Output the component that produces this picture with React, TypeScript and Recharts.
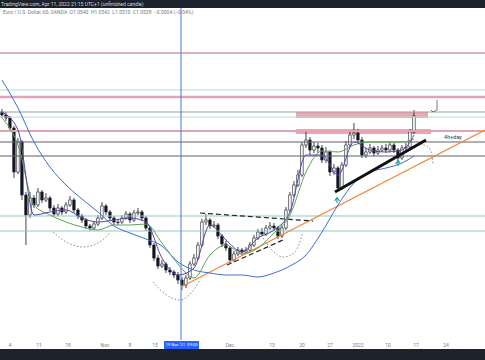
import React from "react";
import {
  ComposedChart, Bar, Line, XAxis, YAxis, ReferenceLine, ReferenceArea, ReferenceDot,
} from "recharts";

// candles, one per index (levels measured up from the bottom of the plot)
const open = [
  228, 225, 222, 212, 168, 198, 145, 125, 142, 135,
  148, 140, 142, 132, 126, 132, 128, 135, 140, 130,
  124, 120, 114, 112, 116, 122, 134, 128, 122, 118,
  118, 122, 126, 120, 127, 128, 122, 112, 95, 82,
  74, 76, 70, 68, 65, 60, 55, 62, 76, 82,
  95, 118, 120, 114, 115, 104, 96, 92, 80, 86,
  90, 88, 90, 95, 102, 108, 106, 112, 114, 112,
  104, 112, 130, 145, 155, 165, 195, 200, 190, 194,
  192, 180, 188, 168, 172, 152, 175, 195, 205, 207,
  200, 185, 188, 192, 187, 190, 192, 190, 195, 190,
  182, 192, 193, 208,
];
const close = [
  225, 222, 212, 168, 198, 145, 125, 142, 135, 148,
  140, 142, 132, 126, 132, 128, 135, 140, 130, 124,
  120, 114, 112, 116, 122, 134, 128, 122, 118, 118,
  122, 126, 120, 127, 128, 122, 112, 95, 82, 74,
  76, 70, 68, 65, 60, 55, 62, 76, 82, 95,
  118, 120, 114, 115, 104, 96, 92, 80, 86, 90,
  88, 90, 95, 102, 108, 106, 112, 114, 112, 104,
  112, 130, 145, 155, 165, 195, 200, 190, 194, 192,
  180, 188, 168, 172, 152, 175, 195, 205, 207, 200,
  185, 188, 192, 187, 190, 192, 190, 195, 190, 182,
  192, 193, 208, 224,
];
const high = [
  231, 228, 224, 214, 202, 200, 148, 148, 145, 152,
  150, 147, 144, 135, 136, 134, 138, 144, 142, 132,
  126, 122, 116, 119, 125, 138, 136, 130, 124, 121,
  125, 129, 128, 130, 132, 130, 124, 114, 97, 85,
  80, 78, 73, 70, 68, 63, 65, 79, 86, 98,
  121, 126, 122, 119, 117, 106, 99, 94, 89, 93,
  92, 93, 98, 105, 111, 112, 115, 118, 117, 114,
  115, 133, 148, 159, 170, 198, 208, 203, 198, 197,
  195, 193, 190, 176, 174, 178, 199, 209, 217, 211,
  203, 192, 196, 194, 194, 195, 196, 198, 197, 192,
  195, 197, 211, 230,
];
const low = [
  222, 219, 210, 162, 166, 140, 95, 122, 132, 133,
  137, 138, 129, 124, 124, 125, 126, 133, 127, 121,
  117, 111, 109, 110, 114, 120, 125, 119, 115, 115,
  116, 120, 117, 118, 125, 119, 109, 92, 79, 71,
  72, 67, 65, 62, 56, 50, 52, 60, 74, 80,
  93, 115, 111, 112, 101, 93, 89, 77, 78, 84,
  85, 86, 88, 93, 100, 104, 104, 110, 109, 101,
  102, 110, 128, 143, 153, 163, 192, 185, 187, 187,
  177, 177, 164, 165, 149, 150, 173, 193, 201, 197,
  182, 182, 186, 184, 185, 188, 187, 188, 187, 178,
  180, 189, 191, 206,
];

// moving averages, read every 4th candle
const maIndex = [0, 4, 8, 12, 16, 20, 24, 28, 32, 36, 40, 44, 48, 52, 56, 60, 64, 68, 72, 76, 80, 84, 88, 92, 96, 100, 103];
const blueMa = [260, 232, 198, 173, 155, 141, 128, 114, 107, 101, 94, 78, 70, 67, 65, 65, 63, 67, 74, 85, 108, 135, 157, 168, 172, 177, 184];
const greenMa = [222, 195, 135, 125, 118, 113, 110, 115, 115, 116, 97, 76, 62, 85, 95, 86, 92, 107, 125, 168, 189, 188, 195, 198, 198, 198, 201];
const purpleMa = [228, 210, 125, 128, 130, 122, 118, 120, 122, 118, 82, 65, 72, 115, 100, 88, 102, 110, 128, 185, 185, 165, 198, 190, 188, 190, 205];

// drawn levels and tools
const hLevels = [287, 250, 243, 228, 223, 209, 198, 184, 124, 109];
const zoneUpper = { from: 73.5, to: 106.5, bottom: 222, top: 228 };
const zoneLower = { from: 73.5, to: 107.25, bottom: 206, top: 211 };
const orangeTrend = [[44.75, 53], [120.75, 210]];
const blackTrend = [[83.25, 148], [106, 200]];
const neckDash = [[49.5, 127], [77.75, 119]];
const lowDash = [[56.25, 75], [70.25, 100]];
const arc1 = [[12.75, 108], [16.5, 97], [20.25, 93], [24, 97], [27, 107]];
const arc2 = [[37.75, 58], [40.75, 46], [44.5, 40], [47.5, 48], [49.5, 60]];
const arc3 = [[65.25, 102], [67.5, 90], [70.25, 83], [73.25, 88], [75.25, 108]];
const arc4 = [[104.5, 196], [106.5, 193], [107.5, 185], [107.75, 175]];
const hook = [[108.75, 240], [108.75, 230], [107.75, 228], [107.25, 230]];
const upArrows = [[83.75, 140], [99, 177]];
const crossIndex = 44.75;

const tickPos = [2, 9.25, 16.5, 25.75, 32, 38.25, 57, 67.5, 75, 82, 89, 96.5, 103.5, 111];
const tickLabel = ["4", "11", "18", "Nov", "8", "15", "Dec", "13", "20", "27", "2022", "10", "17", "24"];

const candles = close.map((c, i) => {
  const m = maIndex.indexOf(i);
  return {
    i, o: open[i], h: high[i], l: low[i], c,
    range: [low[i], high[i]],
    blue: m >= 0 ? blueMa[m] : null,
    green: m >= 0 ? greenMa[m] : null,
    purple: m >= 0 ? purpleMa[m] : null,
  };
});

const pts = (a: number[][]) => a.map(([i, v]) => ({ i, v }));
const seg = (a: number[][]) => a.map(([x, y]) => ({ x, y }));

function Candle(props: any) {
  const { x, y, width, height, payload } = props;
  const { o, h, l, c } = payload;
  const top = Math.min(y, y + height);
  const hh = Math.abs(height);
  const cx = x + width / 2;
  const k = h === l ? 0 : hh / (h - l);
  const yo = top + (h - o) * k;
  const yc = top + (h - c) * k;
  const up = c >= o;
  return (
    <g>
      <line x1={cx} x2={cx} y1={top} y2={top + hh} stroke="#131722" strokeWidth={0.8} />
      <rect x={cx - 1.2} y={Math.min(yo, yc)} width={2.4} height={Math.max(Math.abs(yc - yo), 0.8)}
        fill={up ? "#ffffff" : "#131722"} stroke="#131722" strokeWidth={0.6} />
    </g>
  );
}

function Tick(props: any) {
  const k = tickPos.indexOf(props.payload.value);
  return (
    <text x={props.x} y={347} textAnchor="middle" fontSize={5} fill="#787b86">{tickLabel[k]}</text>
  );
}

export default function App() {
  return (
    <div style={{ position: "fixed", left: 0, top: 0, width: 485, height: 360, background: "#fff", fontFamily: "Roboto, sans-serif", overflow: "hidden" }}>
      <ComposedChart width={485} height={360} data={candles} margin={{ top: 8, right: 0, bottom: 10, left: 0 }}>
        <XAxis dataKey="i" type="number" domain={[-0.5, 120.75]} ticks={tickPos} interval={0}
          axisLine={false} tickLine={false} height={10} tick={<Tick />} allowDataOverflow />
        <YAxis hide domain={[0, 332]} allowDataOverflow />

        <ReferenceLine y={hLevels[0]} stroke="#c99bb6" strokeWidth={1.5} />
        <ReferenceLine y={hLevels[1]} stroke="#b4ddd6" strokeWidth={1} />
        <ReferenceLine y={hLevels[2]} stroke="#e2a3b6" strokeWidth={2.5} />
        <ReferenceArea x1={zoneUpper.from} x2={zoneUpper.to} y1={zoneUpper.bottom} y2={zoneUpper.top} fill="#f3a4ae" fillOpacity={1} stroke="none" />
        <ReferenceArea x1={zoneLower.from} x2={zoneLower.to} y1={zoneLower.bottom} y2={zoneLower.top} fill="#f3a4ae" fillOpacity={1} stroke="none" />
        <ReferenceLine y={hLevels[3]} stroke="#9e9e9e" strokeWidth={1} />
        <ReferenceLine y={hLevels[4]} stroke="#b4ddd6" strokeWidth={1} />
        <ReferenceLine y={hLevels[5]} stroke="#e2a3b6" strokeWidth={2} />
        <ReferenceLine y={hLevels[6]} stroke="#5d6068" strokeWidth={1} />
        <ReferenceLine y={hLevels[7]} stroke="#5d6068" strokeWidth={1} />
        <ReferenceLine y={hLevels[8]} stroke="#8ccbc2" strokeWidth={1} />
        <ReferenceLine y={hLevels[9]} stroke="#8ccbc2" strokeWidth={1} />
        <ReferenceLine x={crossIndex} stroke="#4a74d9" strokeWidth={1} />

        <ReferenceLine segment={seg(orangeTrend)} stroke="#f0873a" strokeWidth={1.2} ifOverflow="visible" />
        <ReferenceLine segment={seg(neckDash)} stroke="#222" strokeWidth={1.2} strokeDasharray="5 3" />
        <ReferenceLine segment={seg(lowDash)} stroke="#222" strokeWidth={1.2} strokeDasharray="5 3" />

        <Line data={pts(arc1)} dataKey="v" type="monotone" stroke="#8a8a8a" strokeWidth={1} strokeDasharray="1.5 2" dot={false} isAnimationActive={false} />
        <Line data={pts(arc2)} dataKey="v" type="monotone" stroke="#8a8a8a" strokeWidth={1} strokeDasharray="1.5 2" dot={false} isAnimationActive={false} />
        <Line data={pts(arc3)} dataKey="v" type="monotone" stroke="#8a8a8a" strokeWidth={1} strokeDasharray="1.5 2" dot={false} isAnimationActive={false} />
        <Line data={pts(arc4)} dataKey="v" type="monotone" stroke="#8a8a8a" strokeWidth={1} strokeDasharray="1.5 2" dot={false} isAnimationActive={false} />
        <Line data={pts(hook)} dataKey="v" type="linear" stroke="#555" strokeWidth={0.8} dot={false} isAnimationActive={false} />

        <Line dataKey="blue" type="monotone" connectNulls stroke="#3f6fd6" strokeWidth={1} dot={false} isAnimationActive={false} />
        <Line dataKey="green" type="monotone" connectNulls stroke="#5fa356" strokeWidth={1} dot={false} isAnimationActive={false} />
        <Bar dataKey="range" barSize={4} shape={<Candle />} isAnimationActive={false} />
        <Line dataKey="purple" type="monotone" connectNulls stroke="#5b45a8" strokeWidth={1} dot={false} isAnimationActive={false} />

        <ReferenceLine segment={seg(blackTrend)} stroke="#111" strokeWidth={3} />
        {upArrows.map(([i, v], k) => (
          <ReferenceDot key={k} x={i} y={v} r={0} shape={(p: any) => (
            <path d={`M${p.cx - 2.5},${p.cy + 1} L${p.cx},${p.cy - 2.5} L${p.cx + 2.5},${p.cy + 1} M${p.cx},${p.cy - 2.5} L${p.cx},${p.cy + 3}`}
              stroke="#26a69a" strokeWidth={1.2} fill="none" />
          )} />
        ))}
        <ReferenceDot x={112.75} y={203} r={0} shape={(p: any) => (
          <text x={p.cx} y={p.cy + 2} textAnchor="middle" fontSize={5.5} fill="#333">4h+day</text>
        )} />
      </ComposedChart>

      <div style={{ position: "absolute", left: 0, top: 0, width: 485, height: 8, background: "#1e222d", color: "#d1d4dc", fontSize: 5, lineHeight: "8px", whiteSpace: "nowrap" }}>
        <span style={{ marginLeft: 1 }}>TradingView.com, Apr 11, 2022 21:15 UTC+1 (unfinished candle)</span>
      </div>
      <div style={{ position: "absolute", left: 3, top: 9, fontSize: 5, color: "#787b86", whiteSpace: "nowrap" }}>
        Euro / U.S. Dollar, 60, OANDA &nbsp;O1.0540 &nbsp;H1.0542 &nbsp;L1.0510 &nbsp;C1.0538 &nbsp;−0.0004 (−0.04%)
      </div>
      <div style={{ position: "absolute", left: 164, top: 341, width: 35, height: 8, background: "#2962ff", color: "#fff", fontSize: 4.2, lineHeight: "8px", textAlign: "center", whiteSpace: "nowrap" }}>
        19 Nov '21 &nbsp;09:00
      </div>
      <div style={{ position: "absolute", left: 0, top: 349, width: 485, height: 11, background: "#1e222d" }} />
    </div>
  );
}
